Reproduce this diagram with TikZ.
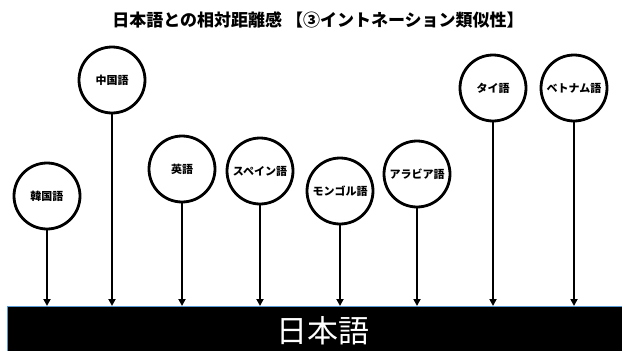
\documentclass[tikz,border=0pt]{standalone}
\usepackage{fontspec}
\setmainfont{Noto Sans CJK JP}
\usetikzlibrary{arrows.meta}
\definecolor{edgeblue}{HTML}{5B9BD5}
\tikzset{
  lang/.style={circle, draw=black, line width=2.8pt, fill=white, minimum size=66pt, inner sep=0pt, font=\bfseries\fontsize{11}{13}\selectfont},
  stem/.style={line width=2.4pt, -{Triangle[length=7pt,width=7pt]}}
}
\begin{document}
\begin{tikzpicture}[x=1pt,y=-1pt]
\useasboundingbox (0,0) rectangle (622,351);
\node[font=\bfseries\fontsize{17}{20}\selectfont] (title) at (318,20) {日本語との相対距離感 【③イントネーション類似性】};
\node[fill=black, draw=edgeblue, line width=0.8pt, minimum width=640pt, minimum height=50pt, anchor=north west, inner sep=0pt] (jp) at (7,306) {};
\node[text=white, font=\fontsize{31}{34}\selectfont] (jptext) at (323,331) {日本語};
\node[lang] (ko) at (47,196) {韓国語};
\node[lang] (zh) at (112,80) {中国語};
\node[lang] (en) at (182,169) {英語};
\node[lang] (es) at (260,171) {スペイン語};
\node[lang] (mn) at (340,191) {モンゴル語};
\node[lang] (ar) at (417,174) {アラビア語};
\node[lang] (th) at (493,88) {タイ語};
\node[lang] (vi) at (574,88) {ベトナム語};
\foreach \n in {ko,zh,en,es,mn,ar,th,vi}
  \draw[stem] (\n.south) -- (\n.south |- jp.north);
\end{tikzpicture}
\end{document}
